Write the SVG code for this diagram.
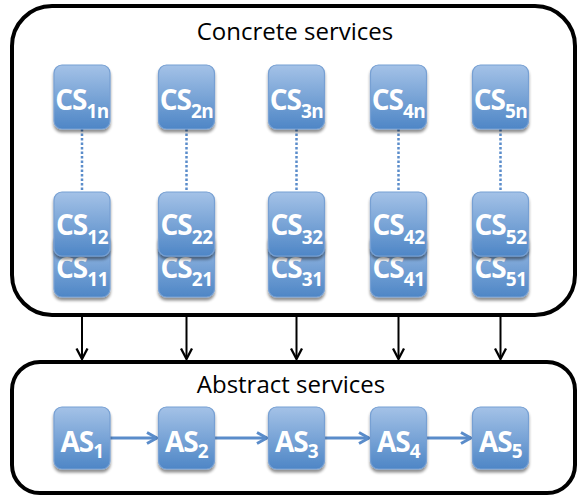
<svg xmlns="http://www.w3.org/2000/svg" width="579" height="497" viewBox="0 0 579 497">
<defs>
<linearGradient id="g" x1="0" y1="0" x2="0" y2="1">
<stop offset="0" stop-color="#a4c2e7"/>
<stop offset="1" stop-color="#4e86c6"/>
</linearGradient>
<filter id="sh" x="-20%" y="-20%" width="140%" height="150%">
<feGaussianBlur in="SourceAlpha" stdDeviation="1.6"/>
<feOffset dy="2.5" result="b"/>
<feComponentTransfer><feFuncA type="linear" slope="0.45"/></feComponentTransfer>
<feMerge><feMergeNode/><feMergeNode in="SourceGraphic"/></feMerge>
</filter>
<marker id="ab" viewBox="0 0 14 14" refX="12" refY="7" markerWidth="14" markerHeight="14" markerUnits="userSpaceOnUse" orient="auto">
<path d="M1.5,1.5 L12,7 L1.5,12.5" fill="none" stroke="#000" stroke-width="2.3"/>
</marker>
<marker id="ah" viewBox="0 0 14 14" refX="12" refY="7" markerWidth="14" markerHeight="14" markerUnits="userSpaceOnUse" orient="auto">
<path d="M2,1.5 L12,7 L2,12.5" fill="none" stroke="#5a8cca" stroke-width="3"/>
</marker>
</defs>
<style>
.frame{fill:#fff;stroke:#000;stroke-width:4}
.title{font-family:"Open Sans","Noto Sans",sans-serif;font-size:24px;fill:#000;text-anchor:middle}
.box{fill:url(#g);stroke:#77a0d3;stroke-width:1.2;filter:url(#sh)}
.lbl{font-family:"Open Sans","Noto Sans",sans-serif;font-weight:bold;font-size:28px;letter-spacing:-1px;fill:#fff;text-anchor:middle}
.sub{font-size:19px;letter-spacing:-0.5px}
.dot{stroke:#5a8cca;stroke-width:2.5;stroke-dasharray:2.5 2}
.blk{stroke:#000;stroke-width:2;fill:none}
.blu{stroke:#5a8cca;stroke-width:3;fill:none}
</style>
<g id="concrete-services">
<rect class="frame" x="12" y="6" width="563" height="309" rx="40"/>
<text class="title" x="295" y="40">Concrete services</text>
</g>
<g id="abstract-services">
<rect class="frame" x="12" y="362" width="563" height="131" rx="28"/>
<text class="title" x="291" y="393">Abstract services</text>
</g>
<g id="connectors">
<line class="dot" x1="82" y1="129" x2="82" y2="192"/>
<line class="dot" x1="186.5" y1="129" x2="186.5" y2="192"/>
<line class="dot" x1="296.5" y1="129" x2="296.5" y2="192"/>
<line class="dot" x1="398.5" y1="129" x2="398.5" y2="192"/>
<line class="dot" x1="500.5" y1="129" x2="500.5" y2="192"/>
<line class="blk" x1="82" y1="316" x2="82" y2="359" marker-end="url(#ab)"/>
<line class="blk" x1="186.5" y1="316" x2="186.5" y2="359" marker-end="url(#ab)"/>
<line class="blk" x1="296.5" y1="316" x2="296.5" y2="359" marker-end="url(#ab)"/>
<line class="blk" x1="398.5" y1="316" x2="398.5" y2="359" marker-end="url(#ab)"/>
<line class="blk" x1="500.5" y1="316" x2="500.5" y2="359" marker-end="url(#ab)"/>
<line class="blu" x1="110" y1="438" x2="157" y2="438" marker-end="url(#ah)"/>
<line class="blu" x1="215" y1="438" x2="267" y2="438" marker-end="url(#ah)"/>
<line class="blu" x1="325" y1="438" x2="369" y2="438" marker-end="url(#ah)"/>
<line class="blu" x1="427" y1="438" x2="471" y2="438" marker-end="url(#ah)"/>
</g>
<g id="CS1n"><rect class="box" x="54" y="65" width="56" height="64" rx="8"/><text class="lbl" x="82" y="110">CS<tspan class="sub" dy="8">1n</tspan></text></g>
<g id="CS2n"><rect class="box" x="158.5" y="65" width="56" height="64" rx="8"/><text class="lbl" x="186.5" y="110">CS<tspan class="sub" dy="8">2n</tspan></text></g>
<g id="CS3n"><rect class="box" x="268.5" y="65" width="56" height="64" rx="8"/><text class="lbl" x="296.5" y="110">CS<tspan class="sub" dy="8">3n</tspan></text></g>
<g id="CS4n"><rect class="box" x="370.5" y="65" width="56" height="64" rx="8"/><text class="lbl" x="398.5" y="110">CS<tspan class="sub" dy="8">4n</tspan></text></g>
<g id="CS5n"><rect class="box" x="472.5" y="65" width="56" height="64" rx="8"/><text class="lbl" x="500.5" y="110">CS<tspan class="sub" dy="8">5n</tspan></text></g>
<g id="CS11"><rect class="box" x="54" y="233" width="56" height="64" rx="8"/><text class="lbl" x="82" y="278">CS<tspan class="sub" dy="8">11</tspan></text></g>
<g id="CS21"><rect class="box" x="158.5" y="233" width="56" height="64" rx="8"/><text class="lbl" x="186.5" y="278">CS<tspan class="sub" dy="8">21</tspan></text></g>
<g id="CS31"><rect class="box" x="268.5" y="233" width="56" height="64" rx="8"/><text class="lbl" x="296.5" y="278">CS<tspan class="sub" dy="8">31</tspan></text></g>
<g id="CS41"><rect class="box" x="370.5" y="233" width="56" height="64" rx="8"/><text class="lbl" x="398.5" y="278">CS<tspan class="sub" dy="8">41</tspan></text></g>
<g id="CS51"><rect class="box" x="472.5" y="233" width="56" height="64" rx="8"/><text class="lbl" x="500.5" y="278">CS<tspan class="sub" dy="8">51</tspan></text></g>
<g id="CS12"><rect class="box" x="54" y="192" width="56" height="64" rx="8"/><text class="lbl" x="82" y="235">CS<tspan class="sub" dy="9">12</tspan></text></g>
<g id="CS22"><rect class="box" x="158.5" y="192" width="56" height="64" rx="8"/><text class="lbl" x="186.5" y="235">CS<tspan class="sub" dy="9">22</tspan></text></g>
<g id="CS32"><rect class="box" x="268.5" y="192" width="56" height="64" rx="8"/><text class="lbl" x="296.5" y="235">CS<tspan class="sub" dy="9">32</tspan></text></g>
<g id="CS42"><rect class="box" x="370.5" y="192" width="56" height="64" rx="8"/><text class="lbl" x="398.5" y="235">CS<tspan class="sub" dy="9">42</tspan></text></g>
<g id="CS52"><rect class="box" x="472.5" y="192" width="56" height="64" rx="8"/><text class="lbl" x="500.5" y="235">CS<tspan class="sub" dy="9">52</tspan></text></g>
<g id="AS1"><rect class="box" x="54" y="407" width="56" height="62" rx="8"/><text class="lbl" x="82" y="452">AS<tspan class="sub" dy="6">1</tspan></text></g>
<g id="AS2"><rect class="box" x="158.5" y="407" width="56" height="62" rx="8"/><text class="lbl" x="186.5" y="452">AS<tspan class="sub" dy="6">2</tspan></text></g>
<g id="AS3"><rect class="box" x="268.5" y="407" width="56" height="62" rx="8"/><text class="lbl" x="296.5" y="452">AS<tspan class="sub" dy="6">3</tspan></text></g>
<g id="AS4"><rect class="box" x="370.5" y="407" width="56" height="62" rx="8"/><text class="lbl" x="398.5" y="452">AS<tspan class="sub" dy="6">4</tspan></text></g>
<g id="AS5"><rect class="box" x="472.5" y="407" width="56" height="62" rx="8"/><text class="lbl" x="500.5" y="452">AS<tspan class="sub" dy="6">5</tspan></text></g>
</svg>
